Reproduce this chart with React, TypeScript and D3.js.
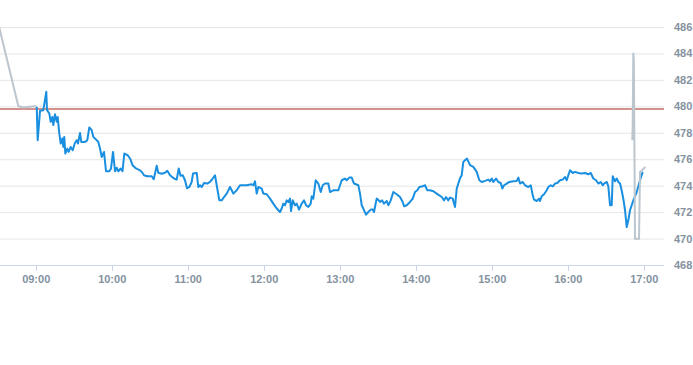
import React, { useRef, useEffect } from "react";
import * as d3 from "d3";

// axis ticks
const yTicks = [468, 470, 472, 474, 476, 478, 480, 482, 484, 486];
const xTickLabels = ["09:00", "10:00", "11:00", "12:00", "13:00", "14:00", "15:00", "16:00", "17:00"];
const prevClose = 479.8;

// pre-market (grey)
const preTimes = ["08:30:00", "08:45:52", "08:49:49", "09:00:14"];
const prePrices = [486.3, 480.02, 479.92, 480.02];

// regular session (blue)
const dayTimes = [
  "09:00:24", "09:01:10", "09:03:00", "09:05:36", "09:07:58", "09:08:32", "09:10:20", "09:11:27", "09:12:43", "09:13:30",
  "09:14:50", "09:16:11", "09:16:58", "09:18:14", "09:19:20", "09:20:36", "09:21:24", "09:22:11", "09:22:58", "09:24:33",
  "09:25:40", "09:27:14", "09:28:49", "09:30:24", "09:31:58", "09:33:00", "09:34:35", "09:35:36", "09:38:32", "09:40:20",
  "09:41:55", "09:43:49", "09:45:05", "09:47:13", "09:49:02", "09:50:22", "09:51:43", "09:53:32", "09:55:06", "09:57:43",
  "09:59:03", "10:00:38", "10:02:13", "10:03:33", "10:04:49", "10:06:43", "10:08:08", "10:09:33", "10:12:14", "10:14:17",
  "10:16:02", "10:18:24", "10:21:10", "10:23:17", "10:25:06", "10:27:29", "10:31:11", "10:32:46", "10:35:08", "10:36:24",
  "10:39:05", "10:41:41", "10:43:30", "10:45:38", "10:48:47", "10:50:55", "10:52:30", "10:53:55", "10:55:40", "10:57:28",
  "10:59:03", "11:00:52", "11:02:46", "11:03:48", "11:06:43", "11:07:59", "11:09:19", "11:10:40", "11:12:29", "11:15:05",
  "11:17:13", "11:19:21", "11:21:10", "11:22:30", "11:24:34", "11:26:27", "11:28:16", "11:30:24", "11:33:00", "11:34:21",
  "11:35:37", "11:38:17", "11:40:54", "11:46:11", "11:50:08", "11:51:24", "11:52:44", "11:54:05", "11:55:21", "11:58:02",
  "11:59:17", "12:01:59", "12:04:35", "12:07:11", "12:09:52", "12:12:29", "12:13:49", "12:15:05", "12:16:25", "12:17:46",
  "12:19:02", "12:20:22", "12:21:10", "12:22:30", "12:24:19", "12:25:40", "12:27:29", "12:29:37", "12:31:26", "12:33:01",
  "12:34:49", "12:36:43", "12:37:31", "12:38:46", "12:40:40", "12:42:43", "12:44:37", "12:46:11", "12:48:01", "12:50:37",
  "12:51:57", "12:54:34", "12:58:31", "13:01:11", "13:03:48", "13:05:08", "13:07:11", "13:09:05", "13:10:54", "13:14:18",
  "13:15:38", "13:16:59", "13:18:14", "13:20:23", "13:22:11", "13:24:05", "13:25:40", "13:26:41", "13:27:43", "13:28:49",
  "13:30:24", "13:31:26", "13:33:01", "13:34:35", "13:36:43", "13:37:59", "13:39:53", "13:41:56", "13:44:37", "13:47:13",
  "13:49:21", "13:50:23", "13:52:30", "13:55:07", "13:57:14", "13:59:04", "14:00:53", "14:02:28", "14:05:08", "14:06:58",
  "14:08:46", "14:10:54", "14:13:31", "14:16:11", "14:20:08", "14:21:58", "14:23:32", "14:25:21", "14:26:41", "14:28:49",
  "14:30:38", "14:31:59", "14:34:35", "14:35:56", "14:37:11", "14:38:32", "14:40:07", "14:42:29", "14:45:05", "14:47:46",
  "14:49:50", "14:51:43", "14:54:19", "14:56:56", "14:58:16", "14:59:37", "15:00:53", "15:03:01", "15:04:50", "15:06:43",
  "15:07:59", "15:09:20", "15:11:28", "15:13:31", "15:16:40", "15:19:21", "15:20:37", "15:21:58", "15:24:05", "15:25:55",
  "15:28:31", "15:30:25", "15:31:59", "15:33:01", "15:35:08", "15:36:58", "15:37:45", "15:39:05", "15:40:54", "15:43:02",
  "15:44:18", "15:46:12", "15:47:47", "15:49:35", "15:51:24", "15:53:32", "15:55:40", "15:57:29", "15:58:49", "16:00:05",
  "16:01:25", "16:03:34", "16:05:22", "16:07:59", "16:10:40", "16:13:16", "16:15:53", "16:17:47", "16:19:50", "16:21:58",
  "16:23:47", "16:25:40", "16:27:15", "16:28:17", "16:30:25", "16:31:40", "16:33:01", "16:34:21", "16:35:08", "16:36:58",
  "16:38:18", "16:39:34", "16:40:54", "16:42:29", "16:43:49", "16:44:51", "16:46:11", "16:47:27", "16:48:48", "16:51:24",
  "16:54:05", "16:56:41", "16:58:49",
];
const dayPrices = [
  479.96, 477.44, 479.66, 479.71, 481.1, 479.71, 479.46, 478.83, 479.2, 478.58,
  479.41, 478.83, 479.2, 477.95, 477.19, 477.57, 476.93, 477.69, 476.43, 476.8,
  476.55, 476.93, 476.68, 477.19, 477.44, 477.19, 477.99, 477.31, 477.31, 477.44,
  478.4, 478.2, 477.69, 477.49, 477.31, 476.81, 476.17, 476.55, 475.09, 475.09,
  475.3, 476.55, 475.09, 475.36, 475.09, 475.3, 475.09, 476.43, 476.3, 476.02,
  475.55, 475.33, 475.2, 475.05, 474.79, 474.71, 474.71, 474.48, 475.51, 474.98,
  474.9, 474.98, 475.13, 474.79, 474.54, 474.46, 475.3, 474.75, 474.79, 474.41,
  473.8, 473.9, 474.28, 474.92, 474.96, 473.9, 474.03, 473.9, 474.2, 474.16,
  474.28, 474.54, 474.79, 474.03, 472.89, 472.89, 473.14, 473.4, 473.9, 473.65,
  473.4, 473.65, 474.03, 474.03, 474.11, 474.03, 474.33, 473.4, 473.9, 473.78,
  473.4, 473.35, 473.02, 472.64, 472.27, 472.01, 472.27, 472.64, 472.52, 472.89,
  472.77, 473.02, 472.08, 472.89, 472.52, 472.64, 472.19, 472.64, 472.89, 472.52,
  472.39, 472.64, 473.2, 473.02, 474.41, 474.16, 473.52, 474.03, 474.16, 474.16,
  473.52, 473.65, 473.65, 474.41, 474.54, 474.41, 474.61, 474.61, 474.16, 474.03,
  473.4, 472.52, 472.27, 471.81, 472.01, 472.19, 472.19, 472.01, 472.52, 473.02,
  472.89, 472.77, 472.89, 472.64, 472.84, 472.52, 472.89, 473.52, 473.35, 473.14,
  472.77, 472.44, 472.52, 472.77, 473.02, 473.52, 473.65, 473.9, 473.95, 474.03,
  473.65, 473.65, 473.58, 473.4, 473.14, 472.89, 473.14, 472.89, 473.1, 473.02,
  472.39, 473.78, 474.56, 474.79, 475.8, 475.92, 476.05, 475.55, 475.42, 475.04,
  474.41, 474.28, 474.36, 474.46, 474.33, 474.54, 474.28, 474.54, 474.28, 474.2,
  473.78, 474.03, 474.16, 474.28, 474.33, 474.36, 474.61, 474.16, 474.28, 474.03,
  473.9, 474.03, 473.27, 472.95, 472.84, 473.02, 472.84, 473.2, 473.35, 473.65,
  473.9, 474.03, 473.95, 474.16, 474.2, 474.41, 474.46, 474.66, 474.41, 474.79,
  475.17, 474.96, 475.04, 474.96, 474.92, 474.96, 474.86, 474.96, 474.54, 474.41,
  474.16, 474.28, 474.03, 474.16, 474.28, 473.95, 472.52, 472.52, 474.71, 474.33,
  474.54, 474.28, 474.16, 473.52, 472.82, 472.14, 470.87, 471.38, 472.14, 472.89,
  473.52, 474.41, 475.04,
];

// after-hours (grey)
const postTimes = ["16:50:36", "16:50:54", "16:51:24", "16:51:48", "16:52:44", "16:55:54", "16:56:41", "16:58:18", "17:00:54"];
const postPrices = [477.44, 478.5, 484.05, 483.5, 469.99, 469.99, 475.04, 475.17, 475.42];

const parseTime = (s: string) => {
  const [h, m, sec] = s.split(":").map(Number);
  return new Date(2024, 0, 2, h, m, sec || 0);
};

const zip = (times: string[], prices: number[]) =>
  times.map((t, i) => ({ date: parseTime(t), value: prices[i] }));

const PriceChart = () => {
  const svgRef = useRef<SVGSVGElement>(null);

  useEffect(() => {
    const width = 693;
    const height = 365;
    const plotRight = 664;
    const top = 27;
    const bottom = 265;

    const svg = d3.select(svgRef.current).attr("width", width).attr("height", height);
    svg.selectAll("*").remove();

    const x = d3
      .scaleTime()
      .domain([parseTime("08:31:25"), parseTime("17:15:37")])
      .range([0, plotRight]);

    const y = d3.scaleLinear().domain([468, 486]).range([bottom, top]);

    svg
      .append("defs")
      .append("clipPath")
      .attr("id", "plot-clip")
      .append("rect")
      .attr("x", 0)
      .attr("y", 0)
      .attr("width", plotRight)
      .attr("height", bottom);

    // horizontal grid
    svg
      .append("g")
      .selectAll("line")
      .data(yTicks.filter((d) => d !== 468))
      .enter()
      .append("line")
      .attr("x1", 0)
      .attr("x2", plotRight)
      .attr("y1", (d) => y(d) + 0.5)
      .attr("y2", (d) => y(d) + 0.5)
      .attr("stroke", "#e6e6e6")
      .attr("stroke-width", 1);

    // x axis line + ticks
    svg
      .append("line")
      .attr("x1", 0)
      .attr("x2", plotRight)
      .attr("y1", bottom + 0.5)
      .attr("y2", bottom + 0.5)
      .attr("stroke", "#ccd6eb");

    svg
      .append("g")
      .selectAll("line")
      .data(xTickLabels)
      .enter()
      .append("line")
      .attr("x1", (d) => Math.round(x(parseTime(d))) + 0.5)
      .attr("x2", (d) => Math.round(x(parseTime(d))) + 0.5)
      .attr("y1", bottom)
      .attr("y2", bottom + 6)
      .attr("stroke", "#ccd6eb");

    const labelStyle = (sel: any) =>
      sel
        .style("font-family", "'Liberation Sans', Arial, sans-serif")
        .style("font-size", "11px")
        .style("font-weight", "bold")
        .style("fill", "#8592a0");

    svg
      .append("g")
      .selectAll("text")
      .data(xTickLabels)
      .enter()
      .append("text")
      .attr("x", (d) => x(parseTime(d)))
      .attr("y", bottom + 18)
      .attr("text-anchor", "middle")
      .text((d) => d)
      .call(labelStyle);

    svg
      .append("g")
      .selectAll("text")
      .data(yTicks)
      .enter()
      .append("text")
      .attr("x", 674)
      .attr("y", (d) => y(d) + 4)
      .text((d) => d)
      .call(labelStyle);

    // previous close
    const closeY = Math.round(y(prevClose));
    svg
      .append("line")
      .attr("x1", 0)
      .attr("x2", plotRight)
      .attr("y1", closeY)
      .attr("y2", closeY)
      .attr("stroke", "#a8271d")
      .attr("stroke-width", 1.2);

    const line = d3
      .line<{ date: Date; value: number }>()
      .x((d) => x(d.date))
      .y((d) => y(d.value));

    const plot = svg.append("g").attr("clip-path", "url(#plot-clip)");

    plot
      .append("path")
      .datum(zip(preTimes, prePrices))
      .attr("d", line)
      .attr("fill", "none")
      .attr("stroke", "#bcc6cf")
      .attr("stroke-width", 2);

    plot
      .append("path")
      .datum(zip(dayTimes, dayPrices))
      .attr("d", line)
      .attr("fill", "none")
      .attr("stroke", "#1a8fe0")
      .attr("stroke-width", 2)
      .attr("stroke-linejoin", "round");

    plot
      .append("path")
      .datum(zip(postTimes, postPrices))
      .attr("d", line)
      .attr("fill", "none")
      .attr("stroke", "#bcc6cf")
      .attr("stroke-width", 2);
  }, []);

  return (
    <div style={{ position: "absolute", left: 0, top: 0 }}>
      <svg ref={svgRef} style={{ display: "block" }}></svg>
    </div>
  );
};

export default function App() {
  return <PriceChart />;
}
